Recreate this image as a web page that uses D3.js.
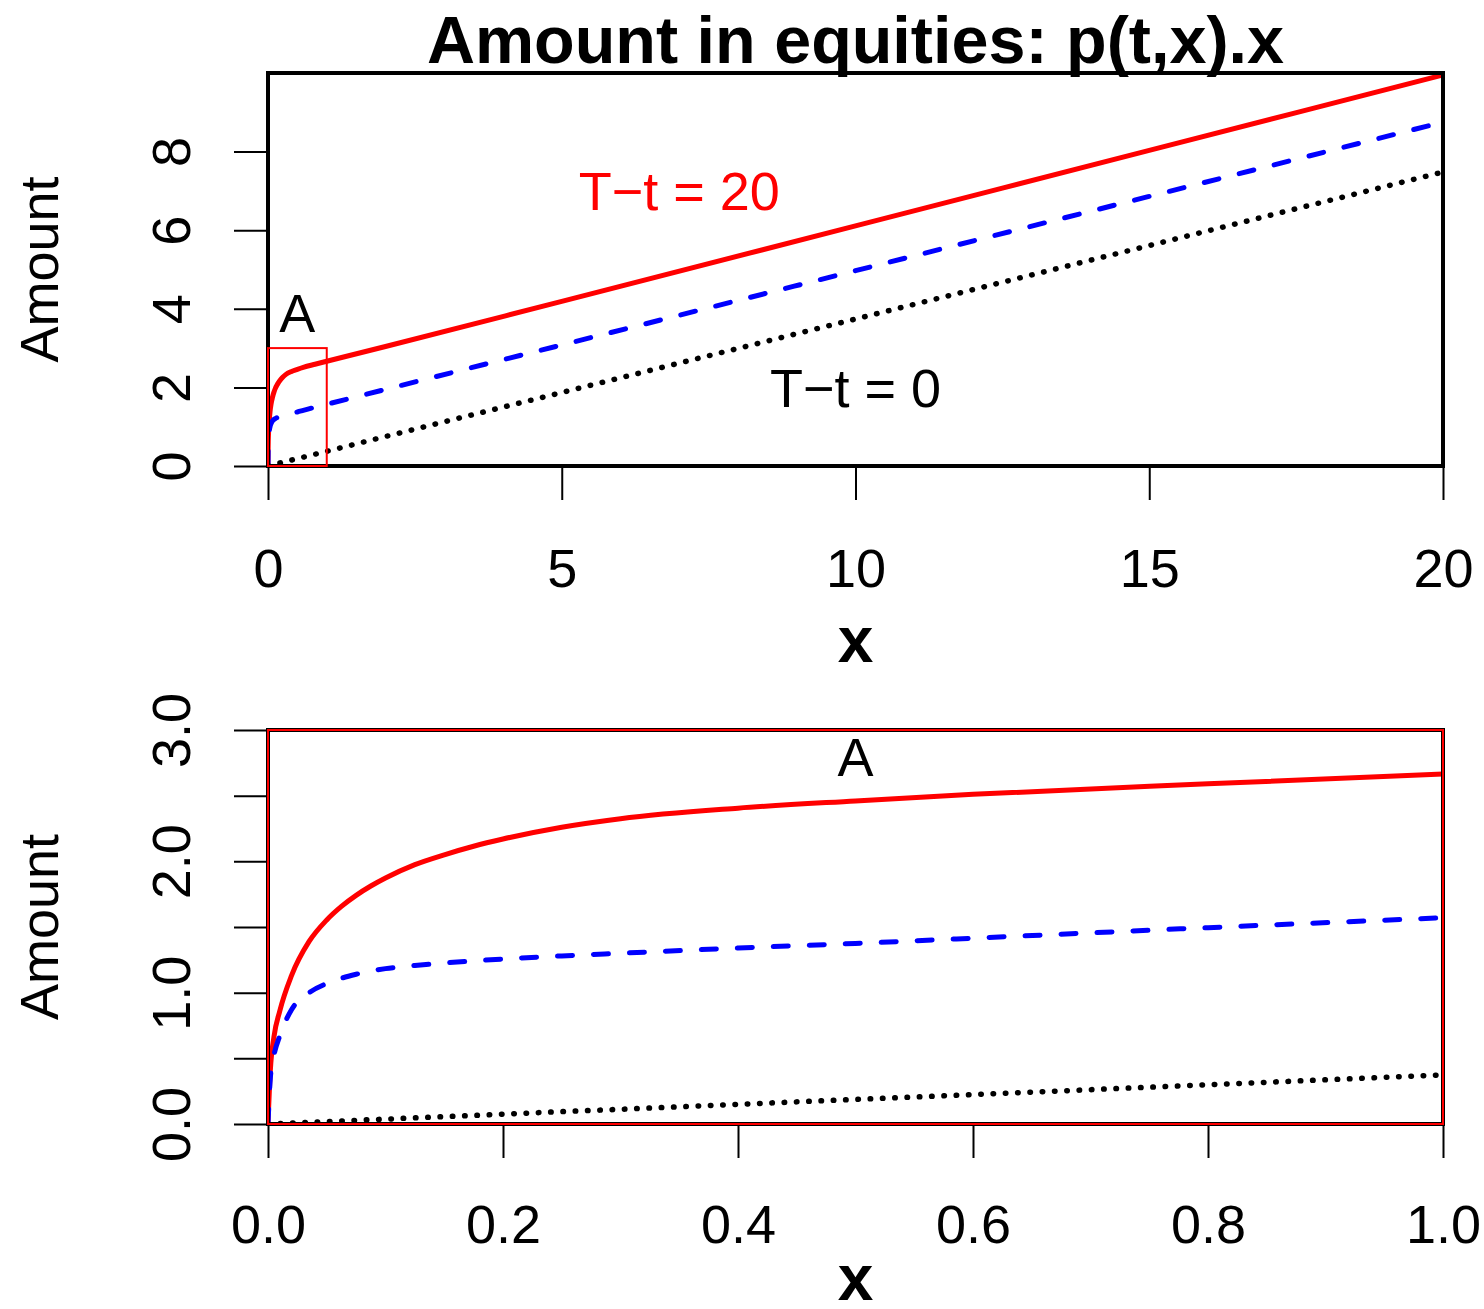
<!DOCTYPE html>
<html>
  <head>
    <meta charset='utf-8' />
    <title>Amount in equities</title>
    <style>
      body {
        margin: 0;
        background-color: white;
      }
      #chart {
        display: block;
        font-family: "Liberation Sans", Arial, sans-serif;
      }
      .tickLabel, .axisTitle, .note {
        font-size: 54px;
      }
    </style>
  </head>

<body>
  <svg id="chart" width="1484" height="1309"></svg>

  <script src="https://d3js.org/d3.v7.min.js"></script>
  <script>

    // wealth x and the three curves (T-t = 20 red, middle horizon blue, T-t = 0 black)
    const xValues     = [0, 0.002, 0.005, 0.01, 0.02, 0.035, 0.05, 0.0625, 0.075, 0.0875, 0.1, 0.125, 0.15, 0.175, 0.2, 0.25, 0.3, 0.4, 0.5, 0.6, 0.8, 1.0, 2, 5, 10, 15, 20];
    const redValues   = [0, 0.41, 0.66, 0.86, 1.13, 1.39, 1.554, 1.657, 1.741, 1.812, 1.873, 1.975, 2.05, 2.115, 2.17, 2.26, 2.325, 2.405, 2.46, 2.51, 2.59, 2.665, 3.04, 4.19, 6.11, 8.03, 9.95];
    const blueValues  = [0, 0.35, 0.52, 0.67, 0.87, 1.00, 1.07, 1.11, 1.14, 1.165, 1.183, 1.207, 1.226, 1.242, 1.256, 1.28, 1.30, 1.34, 1.375, 1.415, 1.495, 1.57, 1.95, 3.08, 4.97, 6.86, 8.75];
    const blackValues = [0, 0.001, 0.002, 0.004, 0.007, 0.013, 0.019, 0.023, 0.028, 0.033, 0.037, 0.047, 0.056, 0.065, 0.075, 0.094, 0.112, 0.15, 0.187, 0.224, 0.299, 0.374, 0.75, 1.87, 3.74, 5.61, 7.48];

    const topXTicks = [0, 5, 10, 15, 20];
    const topYTicks = [0, 2, 4, 6, 8];
    const bottomXTicks = [0, 0.2, 0.4, 0.6, 0.8, 1.0];
    const bottomYTicks = [0, 0.5, 1.0, 1.5, 2.0, 2.5, 3.0];
    const bottomYLabelled = [0, 1.0, 2.0, 3.0];

    const title = "Amount in equities: p(t,x).x";

    let svg = d3.select("#chart");

    let series = [
      {values: redValues, color: "#ff0000", dash: null, width: 5},
      {values: blueValues, color: "#0000ff", dash: "15,21", width: 5},
      {values: blackValues, color: "black", dash: "0.5,11.8", width: 5.5}
    ];

    function drawPanel(opts) {
      let g = svg.append("g").attr("id", opts.id);

      const xScale = d3.scaleLinear()
                       .domain(opts.xDomain)
                       .range([268, 1443]);
      const yScale = d3.scaleLinear()
                       .domain(opts.yDomain)
                       .range([opts.bottom, opts.top]);

      // clip lines to plot region like R does
      g.append("clipPath")
       .attr("id", opts.id + "-clip")
       .append("rect")
       .attr("x", 268)
       .attr("y", opts.top)
       .attr("width", 1443 - 268)
       .attr("height", opts.bottom - opts.top);

      let maxX = opts.xDomain[1];
      series.forEach(s => {
        let pts = xValues.map((x, i) => [x, s.values[i]]).filter(p => p[0] <= maxX);
        let line = d3.line()
                     .x(d => xScale(d[0]))
                     .y(d => yScale(d[1]))
                     .curve(d3.curveMonotoneX);
        g.append("path")
         .datum(pts)
         .attr("clip-path", "url(#" + opts.id + "-clip)")
         .attr("d", line)
         .attr("fill", "none")
         .attr("stroke", s.color)
         .attr("stroke-width", s.width)
         .attr("stroke-linecap", "round")
         .attr("stroke-linejoin", "round")
         .attr("stroke-dasharray", s.dash);
      });

      // x axis
      const xAxis = d3.axisBottom(xScale)
                      .tickValues(opts.xTicks)
                      .tickSize(34)
                      .tickFormat(opts.xFormat);
      let xg = g.append("g")
                .attr("transform", "translate(0," + opts.bottom + ")")
                .call(xAxis);
      xg.select(".domain").remove();
      xg.selectAll("line").attr("stroke", "black").attr("stroke-width", 2);
      xg.selectAll("text")
        .attr("class", "tickLabel")
        .attr("font-family", null)
        .attr("font-size", null)
        .attr("fill", "black")
        .attr("dy", null)
        .attr("y", opts.xLabelBaseline - opts.bottom);
      xg.append("line")
        .attr("x1", xScale(opts.xTicks[0]))
        .attr("x2", xScale(opts.xTicks[opts.xTicks.length - 1]))
        .attr("stroke", "black")
        .attr("stroke-width", 2);

      // y axis
      const yAxis = d3.axisLeft(yScale)
                      .tickValues(opts.yTicks)
                      .tickSize(34)
                      .tickFormat(d => opts.yLabelled.includes(d) ? opts.yFormat(d) : "");
      let yg = g.append("g")
                .attr("transform", "translate(268,0)")
                .call(yAxis);
      yg.select(".domain").remove();
      yg.selectAll("line").attr("stroke", "black").attr("stroke-width", 2);
      yg.selectAll(".tick text")
        .attr("class", "tickLabel")
        .attr("font-family", null)
        .attr("font-size", null)
        .attr("fill", "black")
        .attr("x", null)
        .attr("dy", null)
        .attr("text-anchor", "middle")
        .attr("transform", "translate(-78,0) rotate(-90)");
      yg.append("line")
        .attr("y1", yScale(opts.yTicks[0]))
        .attr("y2", yScale(opts.yTicks[opts.yTicks.length - 1]))
        .attr("stroke", "black")
        .attr("stroke-width", 2);

      // frame
      g.append("rect")
       .attr("x", 268)
       .attr("y", opts.top)
       .attr("width", 1443 - 268)
       .attr("height", opts.bottom - opts.top)
       .attr("fill", "none")
       .attr("stroke", "black")
       .attr("stroke-width", 4);

      // zoom box "A" (x 0..1, amount 0..3)
      g.append("rect")
       .attr("x", xScale(0))
       .attr("y", yScale(3))
       .attr("width", xScale(1) - xScale(0))
       .attr("height", yScale(0) - yScale(3))
       .attr("fill", "none")
       .attr("stroke", "#ff0000")
       .attr("stroke-width", 2);

      // axis titles
      g.append("text")
       .attr("class", "axisTitle")
       .attr("text-anchor", "middle")
       .attr("transform", "translate(58," + ((opts.top + opts.bottom) / 2) + ") rotate(-90)")
       .text("Amount");
      g.append("text")
       .attr("text-anchor", "middle")
       .attr("x", (268 + 1443) / 2)
       .attr("y", opts.xTitleBaseline)
       .attr("font-size", 64)
       .attr("font-weight", "bold")
       .text("x");

      opts.notes.forEach(n => {
        g.append("text")
         .attr("class", "note")
         .attr("text-anchor", "middle")
         .attr("x", xScale(n.x))
         .attr("y", yScale(n.y) + 0.358 * 54)
         .attr("fill", n.color)
         .text(n.text);
      });
    }

    drawPanel({
      id: "top",
      top: 73,
      bottom: 466,
      xDomain: [0, 20],
      yDomain: [0, 10],
      xTicks: topXTicks,
      yTicks: topYTicks,
      yLabelled: topYTicks,
      xFormat: d3.format("d"),
      yFormat: d3.format("d"),
      xLabelBaseline: 587,
      xTitleBaseline: 662,
      notes: [
        {x: 0.5, y: 3.9, text: "A", color: "black"},
        {x: 7, y: 7, text: "T\u2212t = 20", color: "#ff0000"},
        {x: 10, y: 2, text: "T\u2212t = 0", color: "black"}
      ]
    });

    drawPanel({
      id: "bottom",
      top: 730,
      bottom: 1124,
      xDomain: [0, 1],
      yDomain: [0, 3],
      xTicks: bottomXTicks,
      yTicks: bottomYTicks,
      yLabelled: bottomYLabelled,
      xFormat: d3.format(".1f"),
      yFormat: d3.format(".1f"),
      xLabelBaseline: 1243,
      xTitleBaseline: 1300,
      notes: [
        {x: 0.5, y: 2.8, text: "A", color: "black"}
      ]
    });

    svg.append("text")
       .attr("text-anchor", "middle")
       .attr("x", 855.5)
       .attr("y", 63)
       .attr("font-size", 66.5)
       .attr("font-weight", "bold")
       .text(title);

  </script>
</body>
</html>
